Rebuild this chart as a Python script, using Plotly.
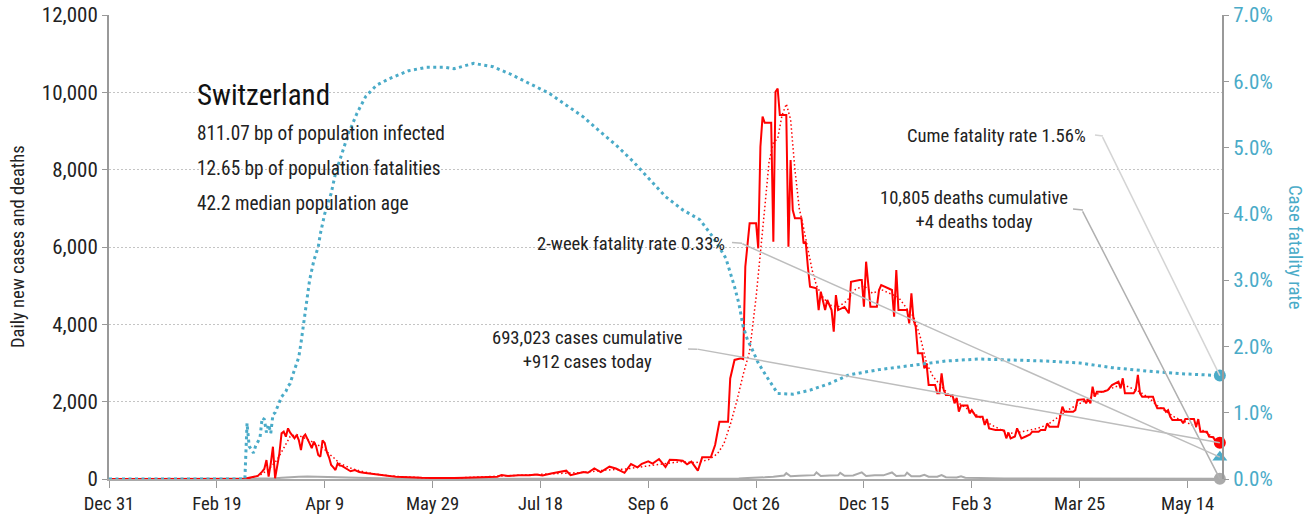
import pandas as pd
import plotly.graph_objects as go

# day offsets from Dec 31 2019
start = pd.Timestamp("2019-12-31")

case_days = [0, 55, 60, 63, 65, 67, 69, 71, 72, 73, 74, 75, 76, 77, 78, 79, 80, 81, 82, 83, 84, 85, 86, 87, 88, 89, 90,
             91, 92, 93, 94, 95, 96, 97, 98, 99, 100, 101, 102, 103, 104, 105, 106, 107, 108, 110, 112, 114, 116, 118,
             120, 122, 124, 127, 130, 133, 136, 140, 145, 150, 155, 160, 165, 170, 175, 180, 182, 185, 190, 195, 198,
             201, 205, 210, 212, 214, 217, 220, 222, 225, 228, 232, 235, 239, 242, 245, 247, 250, 252, 255, 258, 260,
             263, 266, 268, 270, 273, 275, 279, 281, 283, 287, 288, 289, 290, 293, 294, 295, 297, 300, 301, 302, 303,
             304, 307, 308, 309, 310, 311, 314, 315, 316, 317, 318, 321, 322, 323, 324, 325, 328, 329, 330, 332, 333,
             335, 336, 337, 338, 341, 343, 344, 348, 349, 350, 351, 353, 356, 357, 358, 363, 364, 365, 366, 370, 371,
             372, 373, 374, 375, 377, 378, 379, 380, 383, 384, 385, 386, 387, 388, 391, 392, 393, 394, 395, 398, 399,
             400, 402, 405, 406, 407, 408, 411, 414, 415, 416, 417, 418, 420, 421, 423, 425, 427, 428, 431, 432, 434,
             435, 436, 438, 440, 441, 442, 443, 447, 448, 449, 452, 453, 454, 455, 456, 457, 458, 461, 463, 465, 468,
             469, 470, 471, 475, 476, 477, 478, 479, 484, 485, 486, 489, 490, 491, 492, 493, 497, 498, 499, 503, 504,
             505, 506, 509, 510, 512, 513, 515]
case_vals = [0, 0, 2, 5, 30, 60, 80, 190, 260, 490, 60, 400, 835, 18, 318, 663, 1180, 1224, 1095, 1310, 1200, 1138,
             1052, 1138, 1008, 750, 1090, 1150, 1050, 922, 800, 965, 850, 620, 577, 1000, 930, 700, 560, 362, 300, 233,
             405, 350, 340, 276, 200, 233, 180, 164, 150, 130, 103, 90, 75, 60, 50, 40, 30, 25, 20, 25, 30, 40, 45,
             60, 100, 80, 100, 95, 115, 90, 140, 180, 215, 100, 150, 180, 160, 276, 180, 318, 270, 160, 388, 300, 390,
             457, 400, 517, 310, 500, 490, 470, 380, 450, 215, 560, 560, 880, 1480, 1480, 2600, 2850, 3080, 3120, 3100,
             5490, 6612, 6612, 5966, 8594, 9370, 9214, 9214, 6137, 10016, 10100, 9413, 9413, 6007, 8250, 6956, 6741,
             6741, 6095, 6137, 5490, 4973, 4930, 4370, 4843, 4370, 4629, 4370, 3809, 4758, 4370, 4450, 4285, 5102,
             5145, 5145, 4456, 5620, 4456, 4456, 4888, 5017, 4888, 4197, 5405, 4370, 4370, 4026, 4802, 4112, 3938,
             3250, 3250, 2862, 2990, 2430, 2430, 2216, 2216, 2733, 2300, 2172, 2172, 1957, 2100, 1740, 1900, 1900,
             1698, 1780, 1611, 1611, 1396, 1550, 1310, 1267, 1267, 1250, 1052, 1200, 1052, 1100, 1310, 1052, 1100,
             1150, 1224, 1224, 1267, 1267, 1440, 1350, 1350, 1350, 1611, 1870, 1740, 1740, 1780, 2043, 2060, 1957,
             2080, 1957, 2387, 2130, 2258, 2258, 2300, 2430, 2517, 2345, 2604, 2216, 2216, 2300, 2690, 2216, 2129,
             2129, 1957, 1828, 1828, 1740, 1780, 1611, 1526, 1526, 1440, 1550, 1550, 1353, 1550, 1224, 1224, 1095,
             1080, 965, 935]

avg_days = [0, 60, 66, 70, 74, 78, 80, 82, 84, 87, 90, 93, 96, 99, 102, 104, 107, 110, 113, 117, 121, 127, 135, 145,
            160, 175, 190, 200, 210, 220, 230, 240, 250, 258, 265, 272, 278, 282, 285, 288, 291, 294, 297, 300, 302,
            304, 306, 308, 310, 312, 314, 316, 318, 320, 322, 324, 326, 328, 331, 334, 338, 342, 346, 350, 354, 358,
            362, 366, 370, 373, 376, 379, 382, 385, 389, 393, 397, 401, 405, 409, 413, 417, 421, 425, 430, 435, 440,
            445, 450, 455, 460, 465, 470, 474, 478, 482, 486, 490, 494, 498, 502, 506, 510, 515]
avg_vals = [0, 0, 30, 100, 250, 500, 700, 900, 1100, 1150, 1080, 1000, 900, 820, 650, 560, 400, 320, 260, 200, 150,
            100, 60, 35, 25, 60, 100, 110, 140, 170, 230, 260, 340, 400, 450, 420, 500, 650, 900, 1400, 2000, 2700,
            3300, 4700, 5800, 7000, 8200, 8700, 8800, 9400, 9700, 9300, 8000, 7000, 6500, 5900, 5400, 5000, 4700, 4500,
            4450, 4600, 4900, 5000, 4800, 4900, 4800, 4700, 4400, 4200, 3700, 3000, 2650, 2450, 2200, 2000, 1850, 1700,
            1550, 1400, 1290, 1180, 1200, 1250, 1300, 1400, 1600, 1800, 1950, 2100, 2250, 2350, 2450, 2350, 2250,
            2100, 1900, 1750, 1600, 1500, 1400, 1300, 1150, 935]

death_days = [0, 68, 72, 76, 80, 84, 88, 92, 96, 100, 104, 108, 112, 116, 120, 126, 135, 150, 200, 250, 280, 290,
              292, 296, 300, 304, 308, 311, 313, 314, 316, 320, 324, 327, 328, 330, 334, 338, 339, 341, 345, 349, 351,
              355, 359, 363, 365, 369, 370, 372, 376, 378, 380, 384, 386, 388, 393, 395, 397, 402, 408, 415, 425, 440,
              460, 480, 500, 515]
death_vals = [0, 0, 5, 15, 30, 50, 60, 65, 60, 55, 50, 40, 30, 25, 20, 12, 5, 2, 1, 2, 3, 8, 10, 25, 30, 45, 60, 80,
              90, 150, 70, 85, 95, 100, 170, 80, 90, 95, 160, 85, 90, 170, 80, 100, 95, 170, 80, 90, 165, 70, 70, 110,
              60, 60, 100, 45, 40, 70, 35, 25, 20, 15, 10, 8, 6, 5, 4, 4]

cfr_days = [0, 63, 64, 65, 66, 67, 68, 69, 70, 71, 72, 73, 74, 75, 76, 77, 78, 79, 80, 81, 82, 83, 84, 85, 86, 87, 88,
            89, 90, 91, 92, 93, 95, 97, 98, 100, 103, 105, 108, 111, 115, 119, 124, 130, 139, 147, 156, 160, 169, 178,
            186, 197, 204, 212, 220, 227, 235, 243, 251, 258, 266, 274, 280, 286, 290, 292, 294, 296, 298, 301, 305,
            310, 317, 325, 334, 343, 357, 373, 388, 403, 419, 434, 450, 465, 481, 496, 515]
cfr_vals = [0, 0, 0.84, 0.49, 0.45, 0.39, 0.5, 0.56, 0.62, 0.92, 0.9, 0.7, 0.82, 0.69, 0.97, 1.0, 1.09, 1.17, 1.24,
            1.28, 1.32, 1.4, 1.44, 1.55, 1.64, 1.74, 1.84, 2.05, 2.3, 2.55, 2.8, 3.0, 3.3, 3.5, 3.7, 4.0, 4.31, 4.61,
            4.91, 5.21, 5.52, 5.77, 5.94, 6.04, 6.16, 6.21, 6.21, 6.19, 6.27, 6.22, 6.11, 5.94, 5.82, 5.64, 5.46, 5.26,
            5.04, 4.79, 4.51, 4.26, 4.06, 3.91, 3.65, 3.33, 2.9, 2.65, 2.3, 2.1, 1.97, 1.75, 1.54, 1.29, 1.28, 1.34,
            1.44, 1.57, 1.65, 1.72, 1.78, 1.81, 1.8, 1.78, 1.75, 1.68, 1.63, 1.59, 1.56]

two_week_cfr = 0.33
tick_days = [0, 50, 100, 150, 200, 250, 300, 350, 400, 450, 500]
tick_labels = ["Dec 31", "Feb 19", "Apr 9", "May 29", "Jul 18", "Sep 6", "Oct 26", "Dec 15", "Feb 3", "Mar 25", "May 14"]

country = "Switzerland"
info_lines = ["811.07 bp of population infected", "12.65 bp of population fatalities", "42.2 median population age"]


def to_dates(days):
    return [start + pd.Timedelta(days=d) for d in days]


RED = "#ff0000"
BLUE = "#4aabc8"
GREY = "#aaaaaa"
FONT = "Arial Narrow, Liberation Sans Narrow, Roboto Condensed, sans-serif"

fig = go.Figure()
fig.add_trace(go.Scatter(x=to_dates(cfr_days), y=[v / 100 for v in cfr_vals], yaxis="y2", mode="lines",
                         line=dict(color=BLUE, width=3, dash="3px,3.5px")))
fig.add_trace(go.Scatter(x=to_dates(death_days), y=death_vals, mode="lines", line=dict(color=GREY, width=2)))
fig.add_trace(go.Scatter(x=to_dates(case_days), y=case_vals, mode="lines", line=dict(color=RED, width=2)))
fig.add_trace(go.Scatter(x=to_dates(avg_days), y=avg_vals, mode="lines",
                         line=dict(color=RED, width=1.5, dash="1.5px,2.5px")))

# end-of-series markers sit on the right axis, so don't clip them
end = to_dates([case_days[-1]])
fig.add_trace(go.Scatter(x=end, y=[cfr_vals[-1] / 100], yaxis="y2", mode="markers", cliponaxis=False,
                         marker=dict(color=BLUE, size=12)))
fig.add_trace(go.Scatter(x=end, y=[two_week_cfr / 100], yaxis="y2", mode="markers", cliponaxis=False,
                         marker=dict(color=BLUE, size=13, symbol="triangle-up")))
fig.add_trace(go.Scatter(x=end, y=[death_vals[-1]], mode="markers", cliponaxis=False,
                         marker=dict(color=GREY, size=12)))
fig.add_trace(go.Scatter(x=end, y=[avg_vals[-1]], mode="markers", cliponaxis=False,
                         marker=dict(color=RED, size=12)))

# leader lines: (target, axis, ax, ay, colour)
leaders = [
    (cfr_vals[-1] / 100, "y2", -118, -240, "#d4d4d4"),
    (death_vals[-1], "y", -138, -269, "#b0b0b0"),
    (two_week_cfr / 100, "y2", -479, -214, "#bdbdbd"),
    (avg_vals[-1], "y", -524, -94, "#bdbdbd"),
]
for yv, yr, ax, ay, col in leaders:
    fig.add_annotation(x=end[0], y=yv, xref="x", yref=yr, ax=ax, ay=ay, text="", showarrow=True,
                       arrowhead=0, arrowwidth=1.5, arrowcolor=col, standoff=0, startstandoff=0)

FW, FH = 1307, 529
W, H, L, T = 1113, 464, 109, 15


def px(x, y):
    return (x - L) / W, (T + H - y) / H


stubs = [((1095, 135), (1103, 136), "#d4d4d4"), ((1073, 209), (1083, 210), "#b0b0b0"),
         ((732, 242.5), (742, 243.3), "#bdbdbd"), ((688, 349), (697, 349.3), "#bdbdbd")]
for a, b, col in stubs:
    x0, y0 = px(*a)
    x1, y1 = px(*b)
    fig.add_shape(type="line", xref="paper", yref="paper", x0=x0, y0=y0, x1=x1, y1=y1,
                  line=dict(color=col, width=1.5))

notes = [
    ("Cume fatality rate 1.56%", 1088, 136, "right"),
    ("10,805 deaths cumulative<br>+4 deaths today", 974, 209.5, "center"),
    ("2-week fatality rate 0.33%", 727, 244, "right"),
    ("693,023 cases cumulative<br>+912 cases today", 587, 349.5, "center"),
]
for txt, x, y, anc in notes:
    xp, yp = px(x, y)
    fig.add_annotation(x=xp, y=yp, xref="paper", yref="paper", text=txt, showarrow=False, xanchor=anc,
                       yanchor="middle", align="center", font=dict(size=18.6, color="#222"))

xp, yp = px(195, 95)
fig.add_annotation(x=xp, y=yp, xref="paper", yref="paper", text=country, showarrow=False, xanchor="left",
                   yanchor="middle", font=dict(size=29, color="#111"))
for i, line in enumerate(info_lines):
    xp, yp = px(195, 133 + 35 * i)
    fig.add_annotation(x=xp, y=yp, xref="paper", yref="paper", text=line, showarrow=False, xanchor="left",
                       yanchor="middle", font=dict(size=19.3, color="#222"))

xp, yp = px(18, 247)
fig.add_annotation(x=xp, y=yp, xref="paper", yref="paper", text="Daily new cases and deaths", showarrow=False,
                   xanchor="center", yanchor="middle", textangle=-90, font=dict(size=18.6, color="#222"))
xp, yp = px(1295, 247)
fig.add_annotation(x=xp, y=yp, xref="paper", yref="paper", text="Case fatality rate", showarrow=False,
                   xanchor="center", yanchor="middle", textangle=90, font=dict(size=18.6, color=BLUE))

fig.update_layout(
    width=FW, height=FH,
    margin=dict(l=L, r=FW - L - W, t=T, b=FH - T - H, autoexpand=False),
    paper_bgcolor="white", plot_bgcolor="white", showlegend=False, hovermode=False,
    font=dict(family=FONT, size=21, color="#222"),
    xaxis=dict(type="date", range=[start, start + pd.Timedelta(days=516)], tickvals=to_dates(tick_days),
               ticktext=tick_labels, ticks="outside", ticklen=7, tickcolor="#999", showgrid=False,
               showline=True, linecolor="#aaa", linewidth=2, zeroline=False, tickfont=dict(size=18.6),
               automargin=False, ticklabeloverflow="allow"),
    yaxis=dict(range=[0, 12000], dtick=2000, tickformat=",", ticks="outside", ticklen=5, tickcolor="#999",
               showline=True, linecolor="#999", linewidth=2, gridcolor="#c4c4c4", griddash="1.5px,2.5px",
               gridwidth=1, zeroline=False, automargin=False, ticklabeloverflow="allow"),
    yaxis2=dict(range=[0, 0.07], dtick=0.01, tickformat=".1%", overlaying="y", side="right", ticks="outside",
                ticklen=5, tickcolor="#999", showline=True, linecolor="#999", linewidth=2, showgrid=False,
                zeroline=False, tickfont=dict(color=BLUE), automargin=False, ticklabeloverflow="allow"),
)

# drop the default 8px page margin so the figure sits at the window's corner
fig.write_html("out.html", config={"displayModeBar": False},
               post_script="document.body.style.margin='0';document.body.style.overflow='hidden';")
